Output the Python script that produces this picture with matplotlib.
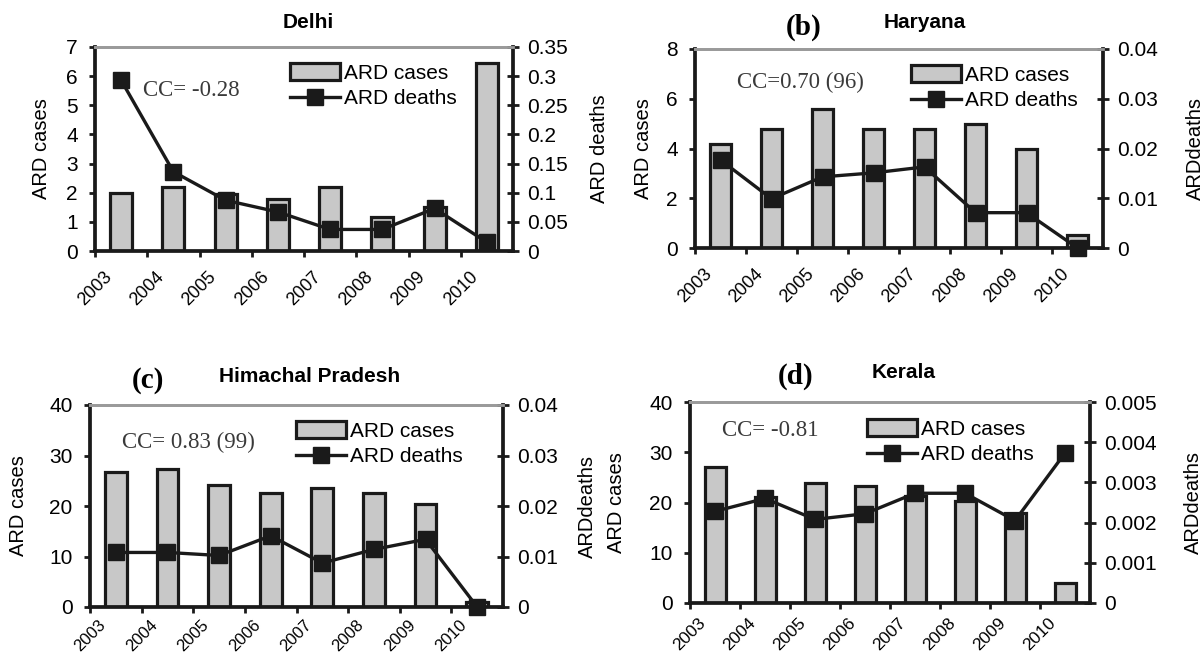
import matplotlib
matplotlib.use('Agg')
import matplotlib.pyplot as plt
import numpy as np

plt.rcParams['font.family'] = ['Liberation Sans', 'DejaVu Sans']

# data
years = ['2003', '2004', '2005', '2006', '2007', '2008', '2009', '2010']

delhi_cases = [2.0, 2.2, 1.95, 1.8, 2.2, 1.15, 1.5, 6.45]
delhi_deaths = [0.293, 0.136, 0.087, 0.067, 0.037, 0.037, 0.073, 0.015]

haryana_cases = [4.2, 4.8, 5.58, 4.8, 4.8, 5.0, 4.0, 0.52]
haryana_deaths = [0.0177, 0.0099, 0.0143, 0.0151, 0.0163, 0.0071, 0.0071, 0.0]

himachal_cases = [26.8, 27.3, 24.1, 22.5, 23.5, 22.5, 20.3, 0.95]
himachal_deaths = [0.0108, 0.0108, 0.0102, 0.0141, 0.0087, 0.0114, 0.0134, 0.0]

kerala_cases = [27.0, 21.0, 23.9, 23.2, 21.2, 20.2, 17.9, 3.9]
kerala_deaths = [0.00228, 0.0026, 0.00208, 0.00222, 0.00273, 0.00273, 0.00205, 0.00373]

cases_ticks = [[0, 1, 2, 3, 4, 5, 6, 7], [0, 2, 4, 6, 8],
               [0, 10, 20, 30, 40], [0, 10, 20, 30, 40]]
deaths_ticks = [[0, 0.05, 0.1, 0.15, 0.2, 0.25, 0.3, 0.35],
                [0, 0.01, 0.02, 0.03, 0.04],
                [0, 0.01, 0.02, 0.03, 0.04],
                [0, 0.001, 0.002, 0.003, 0.004, 0.005]]
titles = ['Delhi', 'Haryana', 'Himachal Pradesh', 'Kerala']
letters = ['', '(b)', '(c)', '(d)']
cc_texts = ['CC= -0.28', 'CC=0.70 (96)', 'CC= 0.83 (99)', 'CC= -0.81']
right_labels = ['ARD deaths', 'ARDdeaths', 'ARDdeaths', 'ARDdeaths']

all_cases = [delhi_cases, haryana_cases, himachal_cases, kerala_cases]
all_deaths = [delhi_deaths, haryana_deaths, himachal_deaths, kerala_deaths]

W, H = 1203, 660
fig = plt.figure(figsize=(W / 100, H / 100), dpi=100)

# layout in pixels: left, right, top, bottom of each axes box
boxes = [(95, 513, 47, 251), (695, 1103, 49, 248), (90, 503, 405, 607), (690, 1090, 402, 603)]
cc_pos = [(143, 90), (737, 82), (122, 442), (722, 430)]
leg_pos = [(290, 63), (911, 65), (296, 421), (867, 419)]
ylab_l = [42, 644, 19, 617]
ylab_r = [599, 1195, 587, 1193]
title_pos = [(308, 22), (925, 23), (310, 377), (904, 372)]
letter_pos = [None, (804, 27), (148, 381), (796, 376)]
xlab_pad = [8, 8, 3, 4]
xlab_size = [13, 13, 12, 12.5]

BAR = '#c8c8c8'
INK = '#1a1a1a'

for i in range(4):
    l, r, t, b = boxes[i]
    ax = fig.add_axes([l / W, 1 - b / H, (r - l) / W, (b - t) / H])
    x = np.arange(len(years)) + 0.5
    bars = ax.bar(x, all_cases[i], width=0.42, color=BAR, edgecolor=INK, linewidth=2.3, label='ARD cases')
    ax.set_xlim(0, len(years))
    ax.set_ylim(cases_ticks[i][0], cases_ticks[i][-1])
    ax.set_yticks(cases_ticks[i])
    ax.set_yticklabels(['%g' % v for v in cases_ticks[i]])
    ax.set_xticks(np.arange(len(years)))
    ax.set_xticklabels(years, rotation=45, ha='center', fontsize=xlab_size[i])
    ax.tick_params(axis='y', direction='out', length=4.5, width=2, labelsize=15, pad=8, color=INK)
    ax.tick_params(axis='x', direction='out', length=4.5, width=2, pad=xlab_pad[i], color=INK)

    ax2 = ax.twinx()
    line, = ax2.plot(x, all_deaths[i], color=INK, lw=2.4, marker='s', ms=11, clip_on=False, label='ARD deaths')
    ax2.set_ylim(deaths_ticks[i][0], deaths_ticks[i][-1])
    ax2.set_yticks(deaths_ticks[i])
    ax2.set_yticklabels(['%g' % v for v in deaths_ticks[i]])
    ax2.tick_params(axis='y', direction='inout', length=9, width=2, labelsize=15, pad=6, color=INK)

    for a in (ax, ax2):
        for s in a.spines.values():
            s.set_linewidth(2.7)
            s.set_color(INK)
        a.spines['top'].set_color('#9a9a9a')
        a.spines['top'].set_linewidth(2)
    ax.spines['right'].set_visible(False)
    ax2.spines['left'].set_visible(False)
    ax2.spines['bottom'].set_visible(False)

    ax.set_ylabel('ARD cases', fontsize=14.5)
    ax.yaxis.set_label_coords((ylab_l[i] + 9 - l) / (r - l), 0.5)
    ax2.set_ylabel(right_labels[i], fontsize=14.5)
    ax2.yaxis.set_label_coords((ylab_r[i] - 9 - l) / (r - l), 0.5)

    cx, cy = cc_pos[i]
    ax.text((cx - l) / (r - l), 1 - (cy - t) / (b - t), cc_texts[i], transform=ax.transAxes,
            family='Liberation Serif', fontsize=16.5, color='#3a3a3a', ha='left', va='center')

    lx, ly = leg_pos[i]
    ax2.legend([bars, line], ['ARD cases', 'ARD deaths'], loc='upper left',
               bbox_to_anchor=((lx - l) / (r - l), 1 - (ly - t) / (b - t)),
               frameon=False, fontsize=15, borderpad=0, borderaxespad=0,
               handlelength=2.4, handleheight=0.85, handletextpad=0.2, labelspacing=0.3)

    tx, ty = title_pos[i]
    fig.text(tx / W, 1 - ty / H, titles[i], ha='center', va='center', fontsize=15, fontweight='bold')
    if letters[i]:
        px, py = letter_pos[i]
        fig.text(px / W, 1 - py / H, letters[i], ha='center', va='center', fontsize=21,
                 fontweight='bold', family='Liberation Serif')

fig.savefig('out.png', dpi=100)
